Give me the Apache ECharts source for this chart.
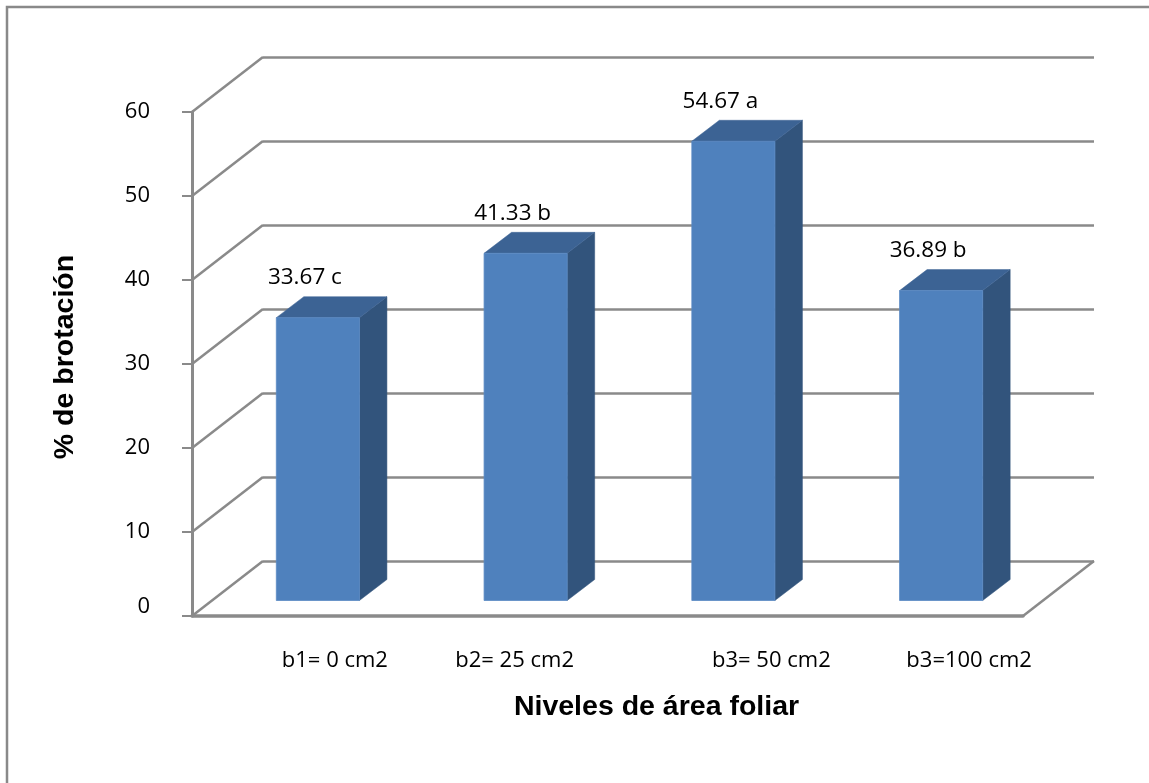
<!DOCTYPE html>
<html><head><meta charset="utf-8">
<script src="https://cdn.jsdelivr.net/npm/echarts@6/dist/echarts.min.js"></script>
<style>html,body{margin:0;padding:0;background:#fff}#c{width:1149px;height:783px}</style>
</head><body><div id="c"></div>
<script>
// ---- data ----
const categories = ['b1= 0 cm2', 'b2= 25 cm2', 'b3= 50 cm2', 'b3=100 cm2'];
const values = [33.67, 41.33, 54.67, 36.89];
const letters = ['c', 'b', 'a', 'b'];
const yTicks = [0, 10, 20, 30, 40, 50, 60];

// ---- styles / projection ----
const GRAY = '#8a8a8a';
const DEPTH = [71, -55];        // projected depth of the floor
const BAR_OFF = [22, -15.5];    // bar front plane relative to front plane
const BAR_DEPTH = [27.5, -21];  // projected depth of a bar
const LABEL_FONT = '"Open Sans", sans-serif';
const TITLE_FONT = '"Liberation Sans", Arial, sans-serif';
const catNudge = [78, 22, 120, 100];

const chart = echarts.init(document.getElementById('c'));

const richCats = {};
catNudge.forEach((p, i) => {
  richCats['n' + i] = { fontFamily: LABEL_FONT, fontSize: 22, color: '#000', padding: [0, 0, 0, p] };
});

chart.setOption({
  animation: false,
  backgroundColor: '#fff',
  graphic: [{
    type: 'rect', silent: true, z: 100,
    shape: { x: 7, y: 7, width: 1400, height: 1000 },
    style: { fill: 'none', stroke: '#898989', lineWidth: 2.5 }
  }],
  grid: [
    { left: 192, top: 112, width: 831, height: 504 },   // front plane
    { left: 263, top: 57, width: 831, height: 504 }     // back wall
  ],
  xAxis: [
    {
      gridIndex: 0, type: 'category', data: categories,
      axisLine: { show: true, lineStyle: { color: GRAY, width: 3.5 } },
      axisTick: { show: false },
      axisLabel: {
        margin: 34, interval: 0,
        formatter: (v, i) => '{n' + i + '|' + v + '}',
        rich: richCats
      },
      name: 'Niveles de área foliar', nameLocation: 'middle', nameGap: 77,
      nameTextStyle: { fontFamily: TITLE_FONT, fontWeight: 'bold', fontSize: 28.5, color: '#000', padding: [0, 0, 0, 98] }
    },
    { gridIndex: 1, type: 'category', data: categories, axisLine: { show: false }, axisTick: { show: false }, axisLabel: { show: false } }
  ],
  yAxis: [
    {
      gridIndex: 0, type: 'value', min: 0, max: 60, interval: 10,
      axisLine: { show: true, lineStyle: { color: GRAY, width: 3 } },
      axisTick: { show: true, length: 10, lineStyle: { color: GRAY, width: 2 } },
      splitLine: { show: false },
      axisLabel: {
        margin: 42, fontFamily: LABEL_FONT, fontSize: 22, color: '#000',
        formatter: v => v === 0 ? '{z|0}' : '' + v,
        rich: { z: { fontFamily: LABEL_FONT, fontSize: 22, color: '#000', padding: [0, 0, 18, 0] } }
      },
      name: '% de brotación', nameLocation: 'middle', nameRotate: 90, nameGap: 112,
      nameTextStyle: { fontFamily: TITLE_FONT, fontWeight: 'bold', fontSize: 28.5, color: '#000', padding: [0, 0, 0, 14] }
    },
    {
      gridIndex: 1, type: 'value', min: 0, max: 60, interval: 10,
      axisLine: { show: false }, axisTick: { show: false }, axisLabel: { show: false },
      splitLine: { show: true, lineStyle: { color: GRAY, width: 2.5 } }
    }
  ],
  series: [
    {
      // left-wall diagonals and right floor edge
      type: 'custom', xAxisIndex: 0, yAxisIndex: 0, z: 1, silent: true,
      data: yTicks.map(v => [0, v]),
      renderItem: (params, api) => {
        const cs = params.coordSys;
        const v = api.value(1);
        const y = api.coord([0, v])[1];
        const x0 = cs.x;
        const children = [{
          type: 'line',
          shape: { x1: x0, y1: y, x2: x0 + DEPTH[0], y2: y + DEPTH[1] },
          style: { stroke: GRAY, lineWidth: 2.5 }
        }];
        if (v === 0) {
          const x1 = cs.x + cs.width;
          children.push({
            type: 'line',
            shape: { x1: x1, y1: y, x2: x1 + DEPTH[0], y2: y + DEPTH[1] },
            style: { stroke: GRAY, lineWidth: 2.5 }
          });
        }
        return { type: 'group', children };
      }
    },
    {
      type: 'custom', xAxisIndex: 0, yAxisIndex: 0, z: 5, silent: true,
      data: values.map((v, i) => [i, v]),
      renderItem: (params, api) => {
        const i = api.value(0), v = api.value(1);
        const top = api.coord([i, v]);
        const base = api.coord([i, 0]);
        const bw = api.size([1, 0])[0] * 0.4;
        const xL = top[0] - bw / 2 + BAR_OFF[0], xR = xL + bw;
        const yT = top[1] + BAR_OFF[1], yB = base[1] + BAR_OFF[1];
        const dx = BAR_DEPTH[0], dy = BAR_DEPTH[1];
        return {
          type: 'group',
          children: [
            { type: 'polygon', shape: { points: [[xR, yT], [xR + dx, yT + dy], [xR + dx, yB + dy], [xR, yB]] },
              style: { fill: '#32547C', stroke: '#32547C', lineWidth: 0.5 } },
            { type: 'polygon', shape: { points: [[xL, yT], [xL + dx, yT + dy], [xR + dx, yT + dy], [xR, yT]] },
              style: { fill: '#3C6394', stroke: '#3C6394', lineWidth: 0.5 } },
            { type: 'rect', shape: { x: xL, y: yT, width: bw, height: yB - yT },
              style: { fill: '#4F81BD', stroke: '#5A8AC4', lineWidth: 0.8 } },
            { type: 'text',
              style: { x: xL + bw / 2 - 13, y: yT - 40, text: v.toFixed(2) + ' ' + letters[i],
                       fill: '#000', fontFamily: LABEL_FONT, fontSize: 22.5, align: 'center', verticalAlign: 'middle' } }
          ]
        };
      }
    }
  ]
});
</script></body></html>
